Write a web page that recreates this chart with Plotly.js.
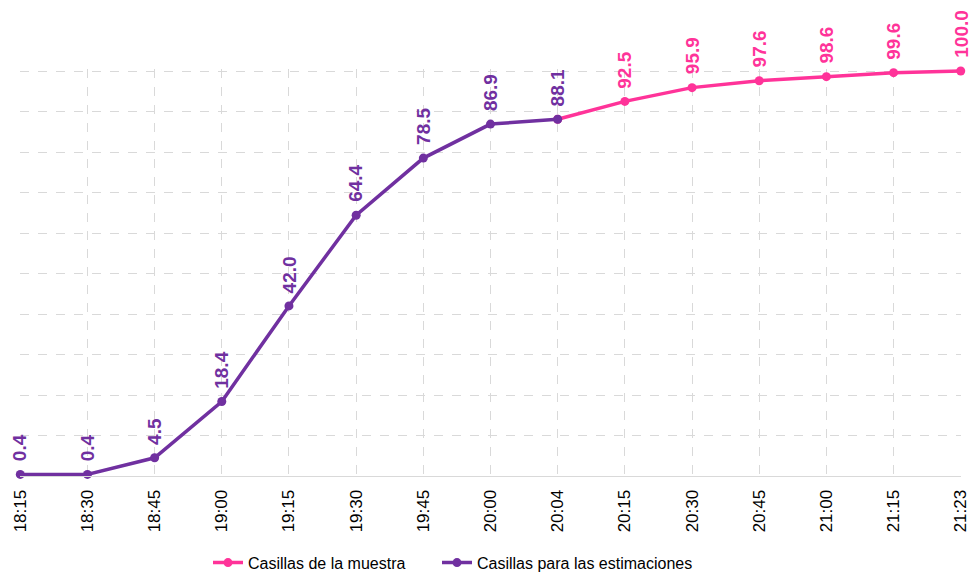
<!DOCTYPE html>
<html>
<head>
<meta charset="utf-8">
<script src="https://cdn.plot.ly/plotly-3.0.1.min.js"></script>
<style>html,body{margin:0;padding:0;background:#fff;}#chart{width:971px;height:573px;}</style>
</head>
<body>
<div id="chart"></div>
<script>
const times = ["18:15","18:30","18:45","19:00","19:15","19:30","19:45","20:00","20:04","20:15","20:30","20:45","21:00","21:15","21:23"];
const muestraTimes = ["20:04","20:15","20:30","20:45","21:00","21:15","21:23"];
const muestraValues = [88.1, 92.5, 95.9, 97.6, 98.6, 99.6, 100.0];
const estimTimes = ["18:15","18:30","18:45","19:00","19:15","19:30","19:45","20:00","20:04"];
const estimValues = [0.4, 0.4, 4.5, 18.4, 42.0, 64.4, 78.5, 86.9, 88.1];

const PINK = "#FF3399";
const PURPLE = "#7030A0";
const FONT = "Liberation Sans, Arial, sans-serif";

const traces = [
  {x: muestraTimes, y: muestraValues, type: "scatter", mode: "lines+markers",
   name: "Casillas de la muestra", line: {color: PINK, width: 3.5}, marker: {color: PINK, size: 9},
   cliponaxis: false, hoverinfo: "x+y", legend: "legend"},
  {x: estimTimes, y: estimValues, type: "scatter", mode: "lines+markers",
   name: "Casillas para las estimaciones", line: {color: PURPLE, width: 3.5}, marker: {color: PURPLE, size: 9},
   cliponaxis: false, hoverinfo: "x+y", legend: "legend2"}
];

const annotations = [];
estimTimes.forEach((t, i) => annotations.push({
  x: t, y: estimValues[i], xref: "x", yref: "y", text: estimValues[i].toFixed(1),
  showarrow: false, textangle: -90, yanchor: "bottom", xanchor: "center", yshift: 11,
  font: {family: FONT, size: 19, color: PURPLE, weight: "bold"}
}));
muestraTimes.forEach((t, i) => { if (i > 0) annotations.push({
  x: t, y: muestraValues[i], xref: "x", yref: "y", text: muestraValues[i].toFixed(1),
  showarrow: false, textangle: -90, yanchor: "bottom", xanchor: "center", yshift: 11,
  font: {family: FONT, size: 19, color: PINK, weight: "bold"}
}); });

const legendBase = {orientation: "h", xref: "container", yref: "container", xanchor: "left",
                    y: 0.018, yanchor: "middle", bgcolor: "rgba(0,0,0,0)",
                    font: {family: FONT, size: 16, color: "#000"}};

const layout = {
  width: 971, height: 573,
  margin: {l: 20, r: 10, t: 69, b: 97, autoexpand: false},
  paper_bgcolor: "#fff", plot_bgcolor: "#fff",
  font: {family: FONT, size: 16, color: "#000"},
  showlegend: true,
  legend: Object.assign({}, legendBase, {x: 208 / 971}),
  legend2: Object.assign({}, legendBase, {x: 437 / 971}),
  xaxis: {type: "category", categoryorder: "array", categoryarray: times,
          range: [-0.004, 14.004], tickangle: -90, showgrid: true, gridcolor: "#d9d9d9", griddash: "dash",
          showline: true, linecolor: "#d9d9d9", linewidth: 1, ticks: "", zeroline: false,
          ticklabelstandoff: 6,
          tickfont: {family: FONT, size: 17, color: "#000"}, fixedrange: true},
  yaxis: {range: [0, 100.5], dtick: 10, showticklabels: false, showgrid: true, gridcolor: "#d9d9d9",
          griddash: "dash", zeroline: false, ticks: "", showline: false, fixedrange: true},
  annotations: annotations
};

Plotly.newPlot("chart", traces, layout, {displayModeBar: false, staticPlot: true});
</script>
</body>
</html>
